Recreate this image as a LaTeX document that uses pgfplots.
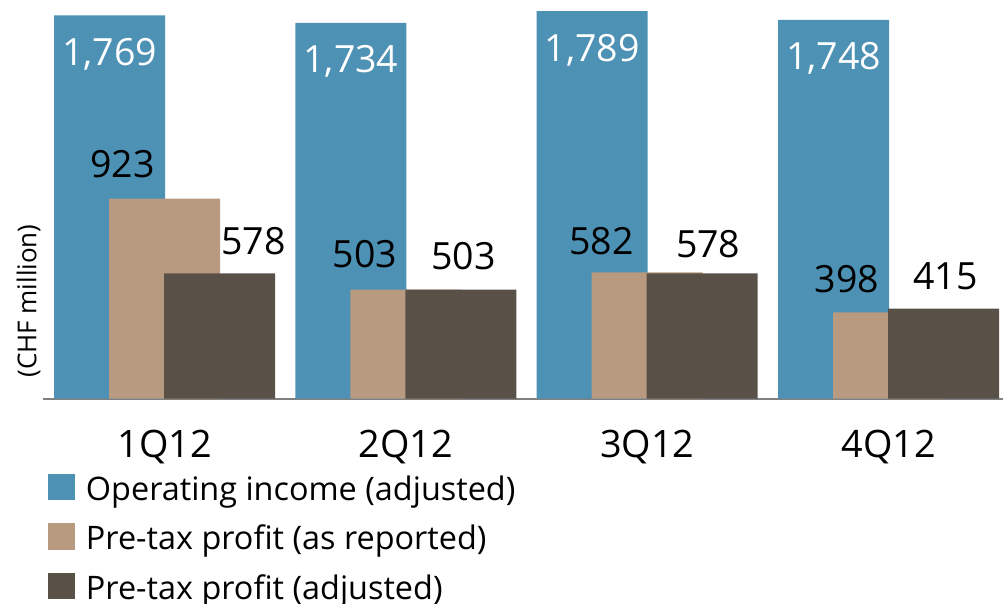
\documentclass[border=0pt]{standalone}
\usepackage{pgfplots}
\pgfplotsset{compat=1.18}
\usepackage{pgfplotstable}
\usepackage{fontspec}
\setmainfont{Open Sans}
\definecolor{cblue}{RGB}{77,145,181}
\definecolor{ctan}{RGB}{183,154,128}
\definecolor{cdark}{RGB}{89,81,71}
\definecolor{caxis}{RGB}{128,128,128}

% dx, dy: label offsets (pt) from the group centre / bar top
\pgfplotstableread{
x y dx dy
0 1769 -55 -50
1 1734 -55 -50
2 1789 -55 -50
3 1748 -55 -50
}\opinc
\pgfplotstableread{
x y dx dy
0 923 -9.5 21
1 503 -8.5 22
2 582 -13.5 18
3 398 -9.5 20
}\ptrep
\pgfplotstableread{
x y dx dy
0 578 89 19
1 503 57.5 20
2 578 61 16
3 415 57 19
}\ptadj

\pgfplotsset{
  sq legend/.style={legend image code/.code={\fill[##1] (0pt,-9.25pt) rectangle (27pt,17.25pt);}},
  vlabels/.style={
    nodes near coords={\pgfmathprintnumber[assume math mode=true,1000 sep={,}]{\pgfplotspointmeta}},
    visualization depends on={\thisrow{dx}\as\dx},
    visualization depends on={\thisrow{dy}\as\dy},
    every node near coord/.append style={anchor=base, xshift=\dx pt, yshift=\dy pt, inner sep=0pt, font=\fontsize{37.5}{40}\selectfont},
  },
}

\begin{document}
\begin{tikzpicture}
\useasboundingbox (-43pt,-204.5pt) rectangle (960pt,398.5pt);
\begin{axis}[
  scale only axis, width=960pt, height=398.5pt,
  xmin=-0.5035, xmax=3.474, ymin=0, ymax=1840,
  separate axis lines,
  axis x line*=bottom,
  y axis line style={draw=none},
  x axis line style={caxis, line width=2pt},
  ytick=\empty,
  xtick={0,1,2,3},
  xticklabels={1Q12,2Q12,3Q12,4Q12},
  major tick length=0pt,
  xticklabel style={font=\fontsize{37.8}{40}\selectfont, anchor=base, yshift=-58.5pt, inner sep=0pt},
  clip=false,
  legend style={draw=none, fill=none, at={(axis description cs:0.0052,-0.1882)}, anchor=north west,
    inner sep=0pt, outer sep=0pt, row sep=15pt, column sep=11pt,
    nodes={inner sep=0pt, text height=26.5pt, text depth=8pt, font=\fontsize{32.4}{33}\selectfont}},
  legend cell align=left,
]
\addplot[ybar, bar width=111pt, bar shift=-55pt, fill=cblue, draw=none, sq legend, vlabels,
  every node near coord/.append style={text=white}] table[x=x,y=y] {\opinc};
\addlegendentry{Operating income (adjusted)}
\addplot[ybar, bar width=111pt, bar shift=0pt, fill=ctan, draw=none, sq legend, vlabels,
  every node near coord/.append style={text=black, anchor=base east}] table[x=x,y=y] {\ptrep};
\addlegendentry{Pre-tax profit (as reported)}
\addplot[ybar, bar width=111pt, bar shift=55pt, fill=cdark, draw=none, sq legend, vlabels,
  every node near coord/.append style={text=black}] table[x=x,y=y] {\ptadj};
\addlegendentry{Pre-tax profit (adjusted)}
\node[rotate=90, font=\fontsize{26}{26}\selectfont, inner sep=0pt] at (axis description cs:-0.0151,0.2447) {(CHF million)};
\end{axis}
\end{tikzpicture}
\end{document}
